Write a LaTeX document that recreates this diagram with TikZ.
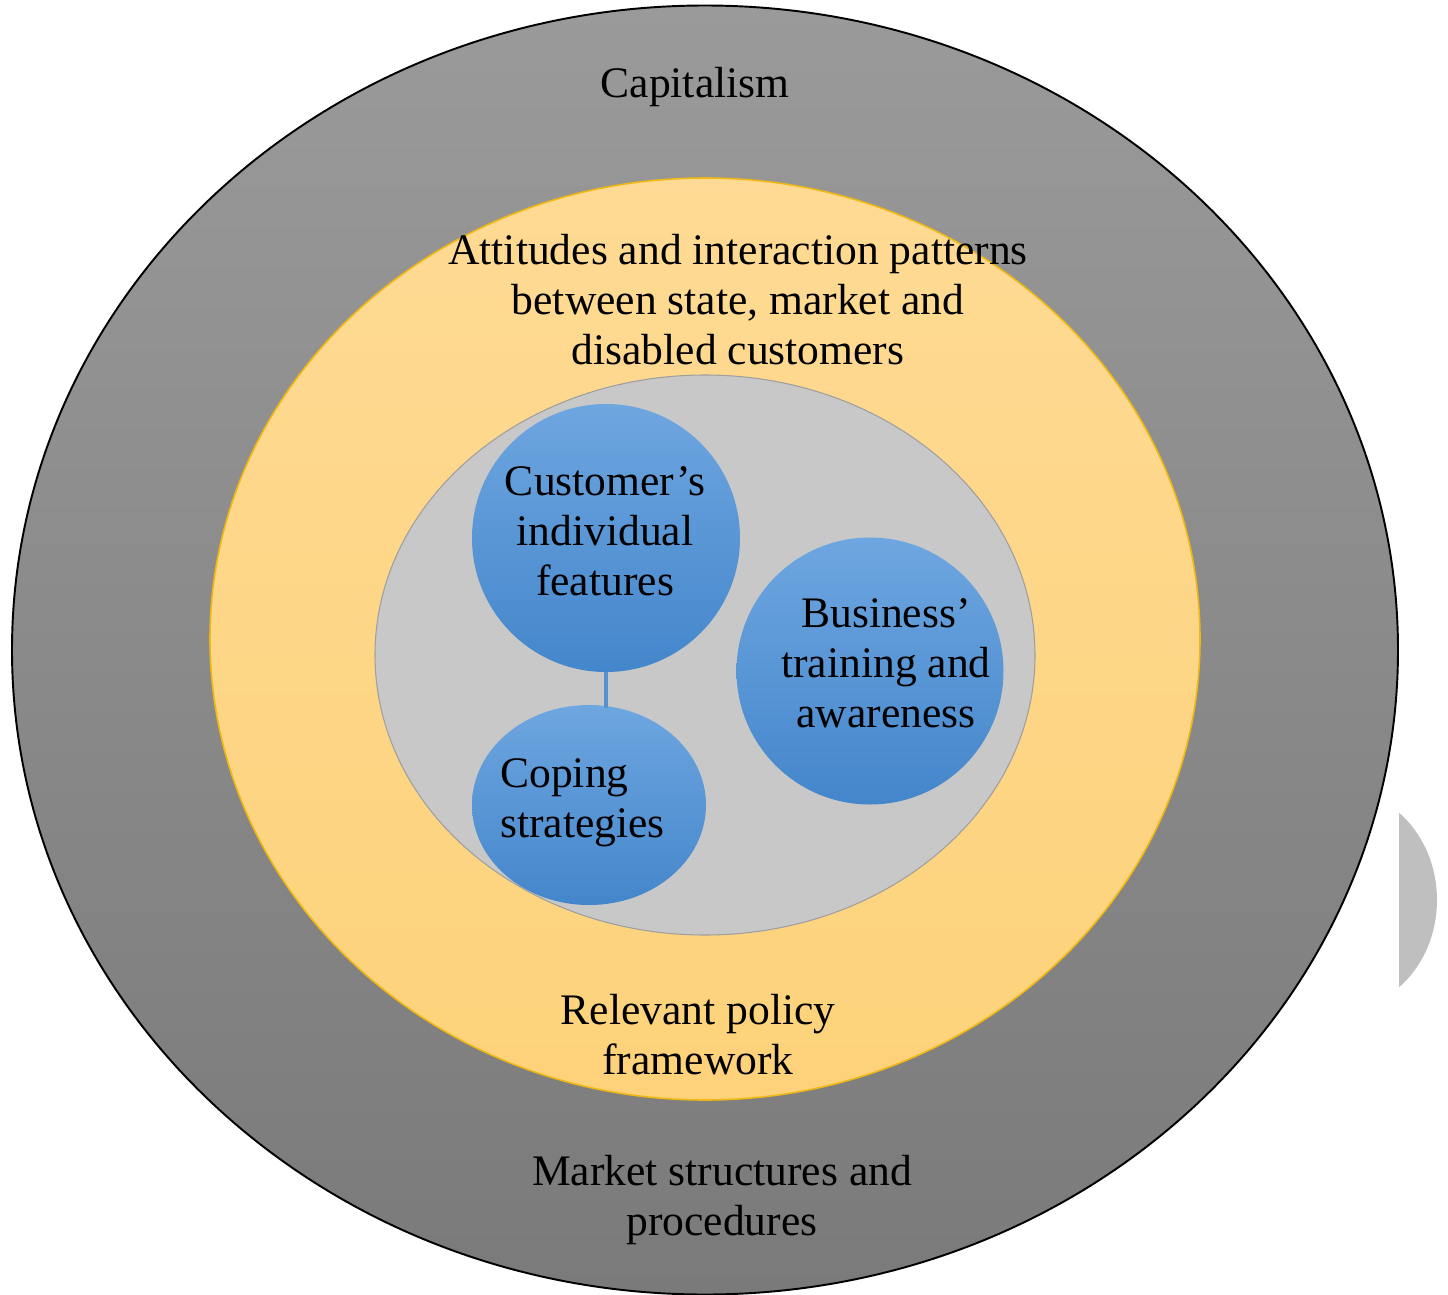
\documentclass[tikz,border=0pt]{standalone}
\usepackage{fontspec}
\setmainfont{Liberation Serif}
\usetikzlibrary{shapes.geometric}

\definecolor{ringtop}{RGB}{154,154,154}
\definecolor{ringbot}{RGB}{122,122,122}
\definecolor{policytop}{RGB}{254,218,148}
\definecolor{policybot}{RGB}{253,210,122}
\definecolor{policyline}{RGB}{240,184,20}
\definecolor{coregray}{RGB}{200,200,200}
\definecolor{bluetop}{RGB}{110,166,224}
\definecolor{bluebot}{RGB}{68,134,203}

\begin{document}
\begin{tikzpicture}[x={(0.02cm,0)}, y={(0,-0.02cm)}]
  \tikzset{layer/.style={ellipse, inner sep=0pt},
    bubble/.style={ellipse, inner sep=0pt, top color=bluetop,
      bottom color=bluebot, draw=none},
    label/.style={font=\fontsize{24.8}{28.5}\selectfont, align=center,
      inner sep=0pt}}
  \useasboundingbox (0,0) rectangle (1448,1295);

  % stray piece of another figure on the right edge
  \begin{scope}
    \clip (1399,700) rectangle (1448,1100);
    \fill[gray!50] (1340,900) ellipse [x radius=97, y radius=110];
  \end{scope}

  \node[layer, draw=black, line width=1.1pt, top color=ringtop,
    bottom color=ringbot, minimum width=1386*0.02cm,
    minimum height=1289*0.02cm] (capitalism) at (705,650) {};
  \node[layer, draw=policyline, line width=0.9pt, top color=policytop,
    bottom color=policybot, minimum width=990*0.02cm,
    minimum height=922*0.02cm] (policy) at (705,639) {};
  \node[layer, draw=gray!75, line width=0.6pt, fill=coregray,
    minimum width=660*0.02cm, minimum height=560*0.02cm] (core) at (705,655) {};

  \node[bubble, minimum size=268*0.02cm] (cust) at (606,538) {};
  \node[bubble, minimum size=267*0.02cm] (biz) at (870,671) {};
  \node[bubble, minimum width=234*0.02cm, minimum height=200*0.02cm]
    (coping) at (589,805) {};
  \draw[bluebot!90, line width=2pt] (cust.south) -- ([yshift=-2pt]cust.south |- coping.north);

  \node[label] (capt) at (695,87) {Capitalism};
  \node[label] (attt) at (738,300)
    {Attitudes and interaction patterns\\between state, market and\\disabled customers};
  \node[label] (polt) at (698,1035) {Relevant policy\\framework};
  \node[label] (mktt) at (722,1200) {Market structures and\\procedures};
  \node[label] (custt) at (605,531) {Customer’s\\individual\\features};
  \node[label] (bizt) at (886,663) {Business’\\training and\\awareness};
  \node[label, align=left, anchor=west] (copt) at (500,803) {Coping\\strategies};
\end{tikzpicture}
\end{document}
